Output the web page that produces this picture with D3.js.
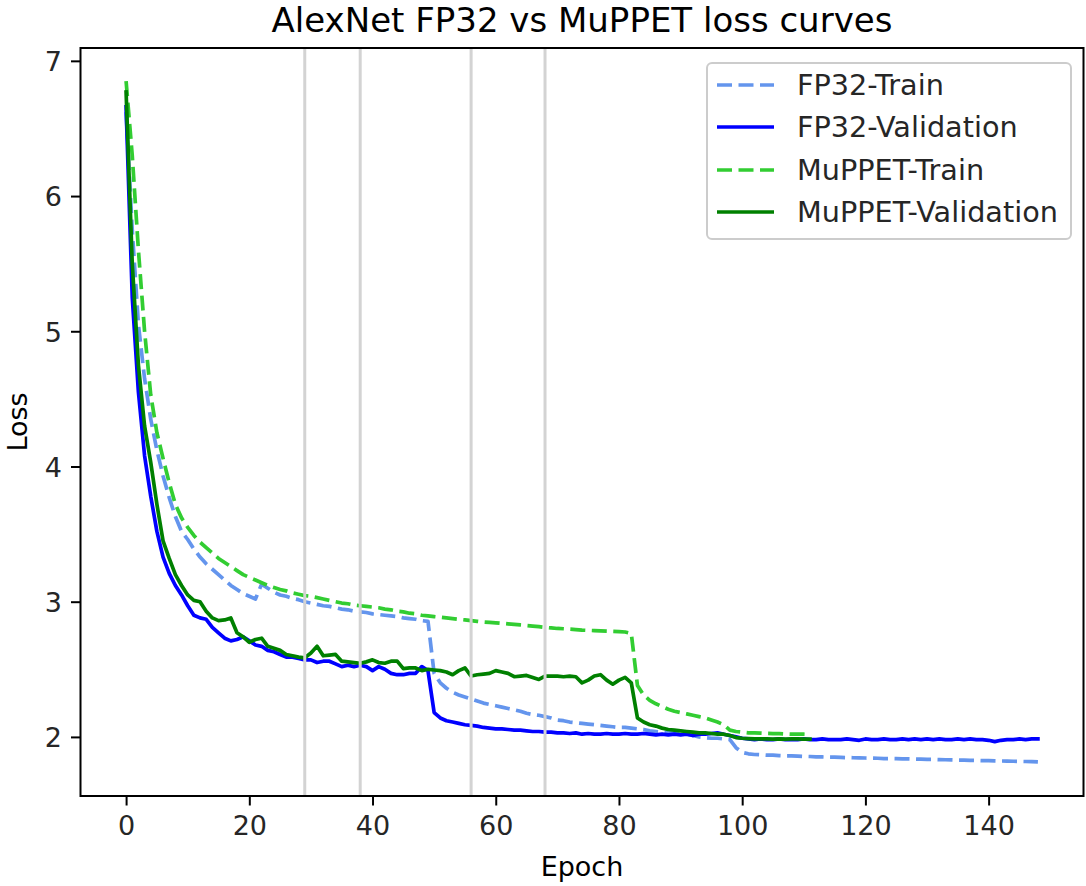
<!DOCTYPE html>
<html>
<head>
<meta charset="utf-8">
<script src="https://cdn.jsdelivr.net/npm/d3@7"></script>
<style>
  html, body { margin: 0; padding: 0; background: #fff; }
  svg { display: block; font-family: "DejaVu Sans", sans-serif; }
</style>
</head>
<body>
<svg id="chart" width="1086" height="886"></svg>
<script>
// ---------------- data ----------------
const fp32Train = [
  6.62, 5.75, 5.05, 4.65, 4.35, 4.12, 3.93, 3.77, 3.63, 3.52,
  3.46, 3.39, 3.33, 3.28, 3.24, 3.20, 3.16, 3.12, 3.09, 3.06,
  3.04, 3.02, 3.13, 3.10, 3.07, 3.05, 3.04, 3.025, 3.015, 3.00,
  2.99, 2.98, 2.97, 2.965, 2.955, 2.945, 2.94, 2.93, 2.925, 2.92,
  2.91, 2.905, 2.90, 2.895, 2.89, 2.88, 2.875, 2.87, 2.86, 2.855,
  2.47, 2.40, 2.36, 2.33, 2.31, 2.295, 2.28, 2.265, 2.25, 2.24,
  2.23, 2.22, 2.21, 2.20, 2.19, 2.175, 2.165, 2.16, 2.15, 2.14,
  2.125, 2.12, 2.11, 2.105, 2.10, 2.095, 2.09, 2.085, 2.08, 2.075,
  2.07, 2.07, 2.065, 2.06, 2.055, 2.045, 2.04, 2.035, 2.03, 2.03,
  2.025, 2.02, 2.01, 2.0, 1.995, 1.99, 1.99, 1.985, 1.98, 1.92,
  1.885, 1.875, 1.87, 1.868, 1.865, 1.865, 1.862, 1.86, 1.86, 1.858,
  1.856, 1.855, 1.853, 1.852, 1.85, 1.85, 1.848, 1.847, 1.846, 1.845,
  1.844, 1.843, 1.842, 1.84, 1.84, 1.839, 1.838, 1.837, 1.836, 1.835,
  1.834, 1.833, 1.832, 1.831, 1.83, 1.829, 1.828, 1.827, 1.826, 1.825,
  1.824, 1.823, 1.822, 1.821, 1.82, 1.819, 1.818, 1.817, 1.815
];
const fp32Val = [
  6.66, 5.25, 4.55, 4.08, 3.78, 3.52, 3.33, 3.21, 3.12, 3.05,
  2.97, 2.90, 2.88, 2.87, 2.81, 2.77, 2.73, 2.71, 2.72, 2.74,
  2.71, 2.68, 2.67, 2.64, 2.63, 2.61, 2.59, 2.59, 2.58, 2.57,
  2.57, 2.55, 2.56, 2.56, 2.54, 2.52, 2.53, 2.52, 2.53, 2.52,
  2.49, 2.52, 2.50, 2.47, 2.46, 2.46, 2.47, 2.47, 2.52, 2.49,
  2.18, 2.14, 2.12, 2.11, 2.10, 2.09, 2.085, 2.08, 2.07, 2.065,
  2.06, 2.06, 2.055, 2.05, 2.05, 2.045, 2.04, 2.04, 2.035, 2.035,
  2.03, 2.03, 2.025, 2.03, 2.02, 2.025, 2.02, 2.02, 2.025, 2.02,
  2.02, 2.025, 2.02, 2.02, 2.025, 2.02, 2.015, 2.02, 2.015, 2.02,
  2.015, 2.02, 2.01, 2.02, 2.02, 2.025, 2.03, 2.02, 2.01, 2.0,
  1.99, 1.985, 1.98, 1.985, 1.98, 1.98, 1.985, 1.98, 1.98, 1.98,
  1.985, 1.98, 1.98, 1.985, 1.98, 1.98, 1.98, 1.985, 1.98, 1.975,
  1.985, 1.98, 1.98, 1.985, 1.98, 1.98, 1.985, 1.98, 1.985, 1.98,
  1.985, 1.98, 1.985, 1.98, 1.98, 1.985, 1.98, 1.985, 1.98, 1.98,
  1.975, 1.965, 1.975, 1.98, 1.98, 1.985, 1.98, 1.985, 1.985
];
const muppetTrain = [
  6.85, 6.3, 5.6, 5.0, 4.53, 4.25, 4.06, 3.88, 3.72, 3.62,
  3.55, 3.49, 3.44, 3.40, 3.36, 3.32, 3.29, 3.26, 3.23, 3.20,
  3.18, 3.16, 3.14, 3.12, 3.105, 3.09, 3.08, 3.065, 3.055, 3.045,
  3.04, 3.03, 3.02, 3.01, 3.0, 2.99, 2.985, 2.975, 2.97, 2.965,
  2.96, 2.955, 2.945, 2.94, 2.93, 2.925, 2.915, 2.91, 2.90, 2.895,
  2.89, 2.885, 2.88, 2.875, 2.87, 2.865, 2.86, 2.855, 2.85, 2.847,
  2.844, 2.84, 2.836, 2.832, 2.828, 2.824, 2.82, 2.815, 2.81, 2.806,
  2.802, 2.80, 2.797, 2.794, 2.79, 2.788, 2.786, 2.784, 2.782, 2.78,
  2.778, 2.776, 2.765, 2.38, 2.31, 2.27, 2.245, 2.225, 2.205, 2.19,
  2.18, 2.17, 2.16, 2.15, 2.14, 2.125, 2.11, 2.09, 2.05, 2.04,
  2.035, 2.03, 2.03, 2.028, 2.026, 2.025, 2.024, 2.022, 2.02, 2.02,
  2.02, 2.018
];
const muppetVal = [
  6.77, 5.5, 4.75, 4.3, 4.03, 3.72, 3.45, 3.32, 3.20, 3.12,
  3.05, 3.01, 3.00, 2.93, 2.88, 2.86, 2.865, 2.88, 2.77, 2.74,
  2.70, 2.72, 2.73, 2.67, 2.655, 2.64, 2.61, 2.60, 2.59, 2.585,
  2.62, 2.67, 2.60, 2.605, 2.61, 2.56, 2.555, 2.55, 2.545, 2.555,
  2.57, 2.55, 2.545, 2.56, 2.56, 2.505, 2.51, 2.51, 2.49, 2.50,
  2.495, 2.49, 2.48, 2.46, 2.49, 2.51, 2.45, 2.46, 2.465, 2.47,
  2.49, 2.48, 2.47, 2.445, 2.45, 2.455, 2.44, 2.425, 2.45, 2.45,
  2.45, 2.445, 2.45, 2.445, 2.40, 2.42, 2.45, 2.46, 2.42, 2.39,
  2.42, 2.44, 2.40, 2.14, 2.11, 2.09, 2.08, 2.065, 2.055, 2.05,
  2.045, 2.04, 2.035, 2.03, 2.03, 2.025, 2.02, 2.02, 2.01, 1.995,
  1.99, 1.988, 1.985, 1.985, 1.985, 1.984, 1.985, 1.984, 1.985, 1.985,
  1.984, 1.984
];
const switchEpochs = [29, 38, 56, 68];
const xTicks = [0, 20, 40, 60, 80, 100, 120, 140];
const yTicks = [2, 3, 4, 5, 6, 7];
const seriesNames = ["FP32-Train", "FP32-Validation", "MuPPET-Train", "MuPPET-Validation"];
const seriesColors = ["#6495ED", "#0000FF", "#32CD32", "#008000"];
const seriesDashed = [true, false, true, false];
const seriesData = [fp32Train, fp32Val, muppetTrain, muppetVal];

// ---------------- layout ----------------
const plot = { left: 80.5, right: 1083.5, top: 48, bottom: 796 };
const svg = d3.select("#chart");

const x = d3.scaleLinear().domain([-7.4, 155.4]).range([plot.left, plot.right]);
const y = d3.scaleLinear().domain([1.563, 7.095]).range([plot.bottom, plot.top]);

const tickFont = 27;
const legendFont = 28.7;
const lineW = 3.7;
const dash = "15,6.5";

// axes
const gx = svg.append("g")
  .attr("transform", `translate(0,${plot.bottom})`)
  .call(d3.axisBottom(x).tickValues(xTicks).tickFormat(d3.format("d"))
    .tickSize(9.5).tickPadding(9).tickSizeOuter(0));
const gy = svg.append("g")
  .attr("transform", `translate(${plot.left},0)`)
  .call(d3.axisLeft(y).tickValues(yTicks).tickFormat(d3.format("d"))
    .tickSize(9.5).tickPadding(9).tickSizeOuter(0));
[gx, gy].forEach(g => {
  g.select(".domain").remove();
  g.selectAll(".tick line").attr("stroke", "#000").attr("stroke-width", 2);
  g.selectAll(".tick text")
    .attr("fill", "#262626")
    .style("font-family", "DejaVu Sans")
    .style("font-size", tickFont + "px");
});
gx.selectAll(".tick text").attr("dy", "0.76em");
gy.selectAll(".tick text").attr("dy", "0.36em");

// lines
const line = d3.line().x((d, i) => x(i)).y(d => y(d));
const linesG = svg.append("g");
seriesData.forEach((data, k) => {
  linesG.append("path")
    .datum(data)
    .attr("d", line)
    .attr("fill", "none")
    .attr("stroke", seriesColors[k])
    .attr("stroke-width", lineW)
    .attr("stroke-linejoin", "round")
    .attr("stroke-linecap", seriesDashed[k] ? "butt" : "square")
    .attr("stroke-dasharray", seriesDashed[k] ? dash : null);
});

// vertical precision-switch lines
svg.append("g").selectAll("line")
  .data(switchEpochs)
  .join("line")
  .attr("x1", d => x(d)).attr("x2", d => x(d))
  .attr("y1", plot.top).attr("y2", plot.bottom)
  .attr("stroke", "#d3d3d3")
  .attr("stroke-width", 3);

// frame
svg.append("rect")
  .attr("x", plot.left).attr("y", plot.top)
  .attr("width", plot.right - plot.left).attr("height", plot.bottom - plot.top)
  .attr("fill", "none").attr("stroke", "#000").attr("stroke-width", 2);

// title & labels
svg.append("text")
  .attr("x", (plot.left + plot.right) / 2).attr("y", 32)
  .attr("text-anchor", "middle")
  .attr("fill", "#000")
  .style("font-size", "34px")
  .text("AlexNet FP32 vs MuPPET loss curves");
svg.append("text")
  .attr("x", (plot.left + plot.right) / 2).attr("y", 876)
  .attr("text-anchor", "middle")
  .attr("fill", "#000")
  .style("font-size", tickFont + "px")
  .text("Epoch");
svg.append("text")
  .attr("transform", `translate(27,${(plot.top + plot.bottom) / 2}) rotate(-90)`)
  .attr("text-anchor", "middle")
  .attr("fill", "#000")
  .style("font-size", tickFont + "px")
  .text("Loss");

// legend
const leg = svg.append("g");
leg.append("rect")
  .attr("x", 707).attr("y", 63).attr("width", 364).attr("height", 176)
  .attr("rx", 5).attr("ry", 5)
  .attr("fill", "#fff").attr("fill-opacity", 0.8)
  .attr("stroke", "#cccccc").attr("stroke-width", 2);
const rowY = [85, 127, 170, 212];
seriesNames.forEach((name, k) => {
  leg.append("line")
    .attr("x1", 717).attr("x2", 774)
    .attr("y1", rowY[k]).attr("y2", rowY[k])
    .attr("stroke", seriesColors[k]).attr("stroke-width", lineW)
    .attr("stroke-dasharray", seriesDashed[k] ? dash : null);
  leg.append("text")
    .attr("x", 797).attr("y", rowY[k] + 10)
    .attr("fill", "#262626")
    .style("font-size", legendFont + "px")
    .text(name);
});
</script>
</body>
</html>
